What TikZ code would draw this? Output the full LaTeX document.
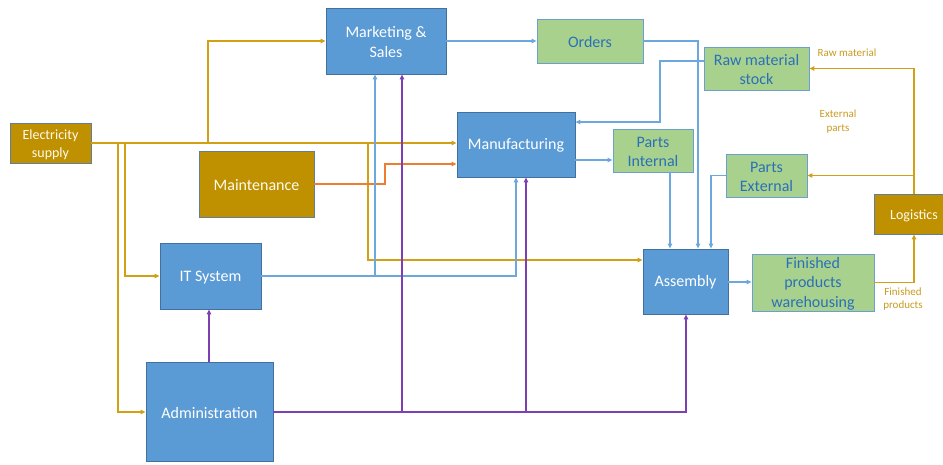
\documentclass[tikz,border=0pt]{standalone}
\usepackage{fontspec}
\setmainfont{Carlito}
\usetikzlibrary{arrows.meta}

\definecolor{procfill}{HTML}{5B9BD5}
\definecolor{procedge}{HTML}{41719C}
\definecolor{stockfill}{HTML}{A9D18E}
\definecolor{stockedge}{HTML}{6A9FD0}
\definecolor{stocktext}{HTML}{2A70B8}
\definecolor{utilfill}{HTML}{BF9000}
\definecolor{utiledge}{HTML}{5F7D9C}
\definecolor{utiltext}{HTML}{FFFBEF}
\definecolor{infoline}{HTML}{6CA8DE}
\definecolor{powerline}{HTML}{D2A014}
\definecolor{serviceline}{HTML}{ED7D31}
\definecolor{adminline}{HTML}{7E3FB2}
\definecolor{flowlabel}{HTML}{C99A1E}

\tikzset{
  % box captions: centred on the box, set a little low like office text frames
  caption/.style={align=center, inner sep=0pt, yshift=-1.2pt,
    font=\fontsize{16}{19.5}\selectfont},
  smallcaption/.style={caption, yshift=0.7pt, font=\fontsize{14}{17.5}\selectfont},
  proctext/.style={caption, text=white},
  stocktxt/.style={caption, text=stocktext},
  utiltxt/.style={caption, text=utiltext},
  box/.style={rectangle, draw, line width=0.9pt, inner sep=0pt},
  procbox/.style={box, fill=procfill, draw=procedge},
  stockbox/.style={box, fill=stockfill, draw=stockedge},
  utilbox/.style={box, fill=utilfill, draw=utiledge},
  link/.style={line width=1.4pt, -{Triangle[length=5pt,width=4.5pt]}},
  info/.style={link, draw=infoline},
  power/.style={link, draw=powerline},
  service/.style={link, draw=serviceline},
  admin/.style={link, draw=adminline},
  flowtag/.style={text=flowlabel, align=center, font=\fontsize{11}{13.5}\selectfont}
}

\begin{document}
\begin{tikzpicture}[x=1pt,y=-1pt]
\useasboundingbox (0,0) rectangle (943,464);

% boxes
\node[utilbox, minimum width=81, minimum height=40,
  label={[utiltxt, smallcaption, text=utiltext, name=elec-t]center:Electricity\\supply}] (elec) at (50.5,143) {};
\node[procbox, minimum width=120, minimum height=66,
  label={[proctext, name=mkt-t]center:Marketing \&\\Sales}] (mkt) at (386,41) {};
\node[utilbox, minimum width=115, minimum height=66,
  label={[utiltxt, name=maint-t]center:Maintenance}] (maint) at (256.5,184) {};
\node[procbox, minimum width=118, minimum height=65,
  label={[proctext, name=manu-t]center:Manufacturing}] (manu) at (516,144.5) {};
\node[stockbox, minimum width=106, minimum height=44,
  label={[stocktxt, name=orders-t]center:Orders}] (orders) at (590,41) {};
\node[stockbox, minimum width=105, minimum height=43,
  label={[stocktxt, name=raw-t]center:Raw material\\stock}] (raw) at (756.5,68.5) {};
\node[stockbox, minimum width=80, minimum height=43,
  label={[stocktxt, name=pint-t]center:Parts\\Internal}] (pint) at (653,150.5) {};
\node[stockbox, minimum width=81, minimum height=43,
  label={[stocktxt, name=pext-t]center:Parts\\External}] (pext) at (766.5,175.5) {};
\node[utilbox, minimum width=80, minimum height=40,
  label={[utiltxt, smallcaption, text=utiltext, name=logi-t]center:Logistics}] (logi) at (914,214) {};
\node[procbox, minimum width=101, minimum height=66,
  label={[proctext, name=it-t]center:IT System}] (it) at (210.5,276) {};
\node[procbox, minimum width=127, minimum height=99,
  label={[proctext, name=adm-t]center:Administration}] (adm) at (209.5,412) {};
\node[procbox, minimum width=85, minimum height=65,
  label={[proctext, name=asm-t]center:Assembly}] (asm) at (685.5,281.5) {};
\node[stockbox, minimum width=122, minimum height=57,
  label={[stocktxt, name=fin-t]center:Finished\\products\\warehousing}] (fin) at (813,282.5) {};

% flow labels
\node[flowtag] (tagraw) at (847,53) {Raw material};
\node[flowtag] (tagext) at (838,121.5) {External\\parts};
\node[flowtag] (tagfin) at (903,299) {Finished\\products};

% electricity supply
\draw[power] (elec.east) -- (manu.west |- elec.east);
\draw[power] (elec.east) -- (208,143) |- (mkt.west);
\draw[power] (elec.east) -- (118,143) |- (adm.west);
\draw[power] (elec.east) -- (125,143) |- (it.west);
\draw[power] (elec.east) -- (368,143) -- (368,260) -- (asm.west |- 0,260);

% maintenance
\draw[service] (maint.east) -- (385,184) -- (385,164) -- (manu.west |- 0,164);

% information and material flows
\draw[info] (mkt.east) -- (orders.west);
\draw[info] (orders.east) -- (698,41) -- (asm.north -| 698,0);
\draw[info] (raw.west |- 0,61) -- (660,61) -- (660,122) -- (manu.east |- 0,122);
\draw[info] (manu.east |- 0,160) -- (pint.west |- 0,160);
\draw[info] (pint.south -| 670,0) -- (asm.north -| 670,0);
\draw[info] (pext.west) -- (711,175.5) -- (asm.north -| 711,0);
\draw[info] (it.east) -- (375,276) -- (mkt.south -| 375,0);
\draw[info] (it.east) -- (516,276) -- (manu.south);
\draw[info] (asm.east |- 0,282) -- (fin.west |- 0,282);

% logistics
\draw[power] (fin.east) -- (914,282.5) -- (logi.south);
\draw[power] (logi.north) -- (914,68.5) -- (raw.east);
\draw[power] (logi.north) -- (914,175.5) -- (pext.east);

% administration
\draw[admin] (adm.north -| 209,0) -- (it.south -| 209,0);
\draw[admin] (adm.east) -- (402,412) -- (mkt.south -| 402,0);
\draw[admin] (adm.east) -- (526,412) -- (manu.south -| 526,0);
\draw[admin] (adm.east) -- (686,412) -- (asm.south -| 686,0);
\end{tikzpicture}
\end{document}
